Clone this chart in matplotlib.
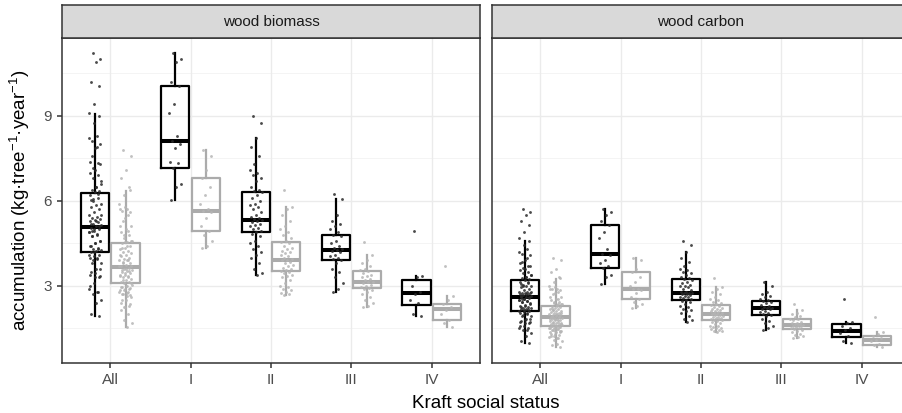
import matplotlib
matplotlib.use("Agg")
import matplotlib.pyplot as plt
import numpy as np

plt.rcParams['font.family'] = ['Liberation Sans', 'DejaVu Sans']
plt.rcParams['mathtext.fontset'] = 'custom'
plt.rcParams['mathtext.rm'] = 'Liberation Sans'
plt.rcParams['mathtext.it'] = 'Liberation Sans:italic'
plt.rcParams['mathtext.bf'] = 'Liberation Sans:bold'

# ---------------- data ----------------
categories = ['All', 'I', 'II', 'III', 'IV']
panel_titles = ['wood biomass', 'wood carbon']
x_title = 'Kraft social status'
y_title = 'accumulation (kg·tree$^{-1}$·year$^{-1}$)'
y_ticks = [3, 6, 9]

# box statistics per category: (whisker low, q1, median, q3, whisker high)
biomass_dark_stats = [
    (1.94, 4.21, 5.07, 6.27, 9.07),
    (6.04, 7.15, 8.12, 10.07, 11.21),
    (3.39, 4.91, 5.33, 6.33, 8.21),
    (2.80, 3.92, 4.27, 4.80, 6.06),
    (1.94, 2.32, 2.74, 3.21, 3.35)]
biomass_light_stats = [
    (1.56, 3.09, 3.66, 4.51, 6.36),
    (4.33, 4.95, 5.65, 6.80, 7.78),
    (2.68, 3.54, 3.92, 4.56, 5.80),
    (2.27, 2.92, 3.13, 3.52, 4.09),
    (1.56, 1.78, 2.18, 2.36, 2.66)]
carbon_dark_stats = [
    (1.00, 2.13, 2.61, 3.21, 4.60),
    (3.07, 3.65, 4.14, 5.14, 5.72),
    (1.74, 2.50, 2.74, 3.25, 4.19),
    (1.45, 1.98, 2.21, 2.47, 3.13),
    (1.00, 1.19, 1.41, 1.66, 1.74)]
carbon_light_stats = [
    (0.84, 1.59, 1.89, 2.30, 3.26),
    (2.21, 2.53, 2.88, 3.48, 3.98),
    (1.39, 1.80, 2.01, 2.33, 2.95),
    (1.15, 1.48, 1.62, 1.82, 2.15),
    (0.84, 0.92, 1.09, 1.22, 1.37)]

# individual tree values per Kraft class (I..IV)
biomass_dark_I = [11.21, 11.0, 10.9, 10.2, 10.07, 9.42, 9.1, 8.3, 8.12, 8.0, 7.87, 7.36, 7.34, 7.15, 6.6, 6.5, 6.04]
biomass_dark_II = [9.0, 8.76, 8.21, 7.9, 7.6, 7.3, 7.1, 7.0, 6.9, 6.8, 6.7, 6.5, 6.4, 6.35, 6.33, 6.2, 6.1, 6.0,
                   5.9, 5.85, 5.8, 5.7, 5.6, 5.5, 5.45, 5.4, 5.35, 5.33, 5.3, 5.25, 5.2, 5.15, 5.1, 5.05, 5.0,
                   4.95, 4.91, 4.85, 4.75, 4.6, 4.5, 4.4, 4.3, 4.2, 4.1, 4.0, 3.8, 3.6, 3.45, 3.39]
biomass_dark_III = [6.24, 6.06, 5.5, 5.3, 5.2, 5.1, 5.0, 4.9, 4.8, 4.75, 4.6, 4.5, 4.4, 4.35, 4.3, 4.27, 4.25,
                    4.2, 4.1, 4.05, 4.0, 3.95, 3.92, 3.8, 3.6, 3.5, 3.3, 3.1, 2.9, 2.80]
biomass_dark_IV = [4.94, 3.35, 3.3, 3.0, 2.8, 2.7, 2.5, 2.4, 2.0, 1.94]

biomass_light_I = [7.78, 7.6, 7.1, 6.8, 6.5, 6.2, 5.9, 5.7, 5.65, 5.6, 5.4, 5.1, 4.95, 4.8, 4.6, 4.4, 4.33]
biomass_light_II = [6.39, 5.80, 5.7, 5.5, 5.3, 5.1, 5.0, 4.9, 4.8, 4.7, 4.6, 4.56, 4.5, 4.4, 4.35, 4.3, 4.25,
                    4.2, 4.15, 4.1, 4.05, 4.0, 3.95, 3.92, 3.9, 3.85, 3.8, 3.75, 3.7, 3.65, 3.6, 3.55, 3.54,
                    3.5, 3.45, 3.4, 3.35, 3.3, 3.2, 3.1, 3.0, 2.95, 2.9, 2.85, 2.8, 2.75, 2.7, 2.68]
biomass_light_III = [4.56, 4.09, 3.9, 3.8, 3.7, 3.6, 3.55, 3.52, 3.45, 3.4, 3.35, 3.3, 3.25, 3.2, 3.15, 3.13,
                     3.1, 3.05, 3.0, 2.95, 2.92, 2.9, 2.85, 2.8, 2.7, 2.6, 2.5, 2.4, 2.3, 2.27]
biomass_light_IV = [3.72, 2.66, 2.5, 2.35, 2.25, 2.15, 2.0, 1.8, 1.7, 1.56]

carbon_dark_I = [5.72, 5.6, 5.5, 5.3, 5.14, 4.9, 4.7, 4.3, 4.14, 4.1, 3.9, 3.8, 3.7, 3.65, 3.4, 3.3, 3.07]
carbon_dark_II = [4.60, 4.45, 4.19, 4.0, 3.85, 3.7, 3.6, 3.55, 3.5, 3.45, 3.4, 3.3, 3.27, 3.25, 3.2, 3.15, 3.1,
                  3.05, 3.0, 2.98, 2.95, 2.9, 2.85, 2.8, 2.78, 2.76, 2.75, 2.74, 2.72, 2.7, 2.68, 2.65, 2.62,
                  2.6, 2.57, 2.53, 2.50, 2.47, 2.42, 2.35, 2.3, 2.25, 2.2, 2.15, 2.1, 2.05, 1.95, 1.85, 1.78, 1.74]
carbon_dark_III = [3.13, 3.0, 2.8, 2.7, 2.65, 2.6, 2.55, 2.5, 2.47, 2.44, 2.38, 2.33, 2.28, 2.25, 2.22, 2.21,
                   2.2, 2.17, 2.12, 2.08, 2.04, 2.0, 1.98, 1.95, 1.85, 1.75, 1.7, 1.6, 1.5, 1.45]
carbon_dark_IV = [2.53, 1.74, 1.7, 1.6, 1.5, 1.45, 1.35, 1.25, 1.05, 1.0]

carbon_light_I = [3.98, 3.9, 3.6, 3.48, 3.3, 3.15, 3.0, 2.9, 2.88, 2.85, 2.75, 2.6, 2.53, 2.45, 2.35, 2.3, 2.21]
carbon_light_II = [3.27, 2.95, 2.9, 2.8, 2.7, 2.6, 2.55, 2.5, 2.45, 2.4, 2.35, 2.33, 2.3, 2.26, 2.22, 2.2, 2.18,
                   2.15, 2.12, 2.1, 2.08, 2.05, 2.03, 2.01, 2.0, 1.98, 1.96, 1.95, 1.92, 1.9, 1.88, 1.86, 1.85,
                   1.82, 1.8, 1.78, 1.75, 1.72, 1.7, 1.65, 1.6, 1.57, 1.55, 1.52, 1.5, 1.48, 1.45, 1.42, 1.4, 1.39]
carbon_light_III = [2.35, 2.15, 2.05, 2.0, 1.95, 1.9, 1.85, 1.82, 1.78, 1.74, 1.7, 1.7, 1.67, 1.65, 1.63, 1.62,
                    1.6, 1.58, 1.55, 1.52, 1.5, 1.48, 1.45, 1.42, 1.38, 1.32, 1.28, 1.22, 1.18, 1.15]
carbon_light_IV = [1.92, 1.37, 1.3, 1.22, 1.15, 1.1, 1.05, 0.95, 0.9, 0.84]


def with_all(classes):
    # "All" pools every tree of the four Kraft classes
    pooled = [v for c in classes for v in c]
    return [pooled] + classes


biomass_dark_pts = with_all([biomass_dark_I, biomass_dark_II, biomass_dark_III, biomass_dark_IV])
biomass_light_pts = with_all([biomass_light_I, biomass_light_II, biomass_light_III, biomass_light_IV])
carbon_dark_pts = with_all([carbon_dark_I, carbon_dark_II, carbon_dark_III, carbon_dark_IV])
carbon_light_pts = with_all([carbon_light_I, carbon_light_II, carbon_light_III, carbon_light_IV])

panels = [
    (biomass_dark_stats, biomass_light_stats, biomass_dark_pts, biomass_light_pts),
    (carbon_dark_stats, carbon_light_stats, carbon_dark_pts, carbon_light_pts),
]

# ---------------- style ----------------
W, H = 902, 413
fig = plt.figure(figsize=(W / 100, H / 100), dpi=100)
fig.patch.set_facecolor('white')

dark_col = 'black'
light_col = '#ABABAB'
dark_pt = '#2A2A2A'
light_pt = '#B5B5B5'
border_col = '#333333'
tick_lbl_col = '#4D4D4D'
dodge = 0.19
box_w = 0.35

panel_px = [(62, 480), (492, 910)]
top_px, bot_px, strip_top_px = 38, 363, 5


def fx(px):
    return px / W


def fy(py):
    return 1 - py / H


def jitter(n, half=0.08):
    k = np.arange(n)
    return ((k * 0.6180339887 + 0.31) % 1.0 - 0.5) * 2 * half


def to_bxp(stats):
    return [dict(whislo=s[0], q1=s[1], med=s[2], q3=s[3], whishi=s[4], fliers=[]) for s in stats]


xpos = np.arange(1, len(categories) + 1)

for pi, (dstats, lstats, dpts, lpts) in enumerate(panels):
    l, r = panel_px[pi]
    ax = fig.add_axes([fx(l), fy(bot_px), fx(r - l), fy(top_px) - fy(bot_px)])
    ax.set_xlim(0.4, 5.6)
    ax.set_ylim(0.28, 11.75)
    ax.set_facecolor('white')

    # grid
    for yv in [1.5, 4.5, 7.5, 10.5]:
        ax.axhline(yv, color='#F2F2F2', lw=0.6, zorder=0)
    for yv in y_ticks:
        ax.axhline(yv, color='#EBEBEB', lw=1.0, zorder=0)
    for xv in xpos:
        ax.axvline(xv, color='#EBEBEB', lw=1.0, zorder=0)

    for stats, pts, off, ecol, pcol in [
            (dstats, dpts, -dodge, dark_col, dark_pt),
            (lstats, lpts, dodge, light_col, light_pt)]:
        ax.bxp(to_bxp(stats), positions=xpos + off, widths=box_w,
               showfliers=False, showcaps=False, patch_artist=False,
               boxprops=dict(color=ecol, lw=1.6),
               whiskerprops=dict(color=ecol, lw=1.6),
               medianprops=dict(color=ecol, lw=2.9, solid_capstyle='butt'),
               manage_ticks=False, zorder=2)
        for i, vals in enumerate(pts):
            xs = xpos[i] + off + jitter(len(vals))
            ax.scatter(xs, vals, s=4.2, color=pcol, alpha=0.85, linewidths=0, zorder=3)

    ax.set_xticks(xpos)
    ax.set_xticklabels(categories)
    ax.set_yticks(y_ticks)
    if pi == 0:
        ax.set_yticklabels([str(t) for t in y_ticks])
    else:
        ax.tick_params(axis='y', left=False, labelleft=False)
    ax.tick_params(axis='both', colors=border_col, labelcolor=tick_lbl_col,
                   labelsize=11, length=3.8, width=1.1, pad=3.5)
    for sp in ax.spines.values():
        sp.set_color(border_col)
        sp.set_linewidth(1.1)

    # strip
    sax = fig.add_axes([fx(l), fy(top_px), fx(r - l), fy(strip_top_px) - fy(top_px)])
    sax.set_facecolor('#D9D9D9')
    sax.set_xticks([])
    sax.set_yticks([])
    for sp in sax.spines.values():
        sp.set_color(border_col)
        sp.set_linewidth(1.1)
    sax.text(0.5, 0.5, panel_titles[pi], ha='center', va='center',
             fontsize=11, color='#1A1A1A', transform=sax.transAxes)

fig.text(fx(486), fy(403), x_title, ha='center', va='center', fontsize=13.5, color='black')
fig.text(fx(20), fy(200), y_title, ha='center', va='center', rotation=90, fontsize=13.5, color='black')

fig.savefig('out.png', dpi=100, facecolor='white')
